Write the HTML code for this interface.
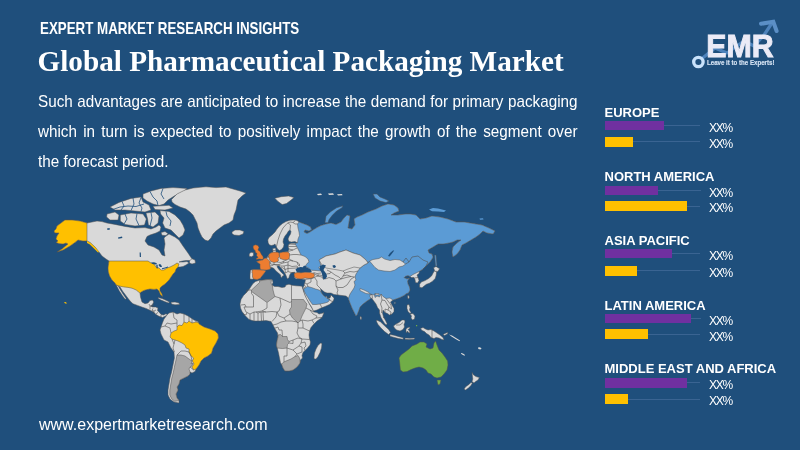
<!DOCTYPE html>
<html><head><meta charset="utf-8"><title>Global Pharmaceutical Packaging Market</title>
<style>
html,body{margin:0;padding:0}
body{width:800px;height:450px;overflow:hidden;background:#1f4f7c;position:relative;font-family:"Liberation Sans",sans-serif;color:#fff}
.abs{position:absolute;white-space:nowrap}
#hd{left:40px;top:19.2px;font-size:16.2px;font-weight:bold;line-height:18px;transform:scaleX(.8235);transform-origin:0 0}
#ttl{left:37.5px;top:42.5px;font-family:"Liberation Serif",serif;font-weight:bold;font-size:29.2px;line-height:36px}
#body{left:38.3px;top:85.7px;width:580.1px;transform:scaleX(.93);transform-origin:0 0;font-size:16.4px;line-height:30px;white-space:normal}
#body div{text-align:justify;text-align-last:justify;white-space:nowrap}
#body div.last{text-align:left;text-align-last:left}
#ft{left:39px;top:415px;font-size:16px;line-height:20px}
.lab{left:604.5px;font-size:13px;font-weight:bold;line-height:14px}
.bar{position:absolute;left:604.5px;height:9.5px}
.p{background:#7030a0}.y{background:#ffc000;height:10px}
.ln{position:absolute;height:1px;background:#3a6492}
.xx{font-size:12px;letter-spacing:-1.2px;left:709px;line-height:14px;font-weight:normal}
</style></head><body>
<div class="abs" id="hd">EXPERT MARKET RESEARCH INSIGHTS</div>
<div class="abs" id="ttl">Global Pharmaceutical Packaging Market</div>
<div class="abs" id="body"><div>Such advantages are anticipated to increase the demand for primary packaging</div><div>which in turn is expected to positively impact the growth of the segment over</div><div class="last">the forecast period.</div></div>
<div class="abs" id="ft">www.expertmarketresearch.com</div>
<!--BARS-->
<div class="abs lab" style="top:105.6px">EUROPE</div>
<div class="bar p" style="top:120.9px;width:59.3px"></div>
<div class="ln" style="top:125.2px;left:663.8px;width:36.7px"></div>
<div class="abs xx" style="top:120.9px">XX%</div>
<div class="bar y" style="top:136.8px;width:28.9px"></div>
<div class="ln" style="top:141.4px;left:633.4px;width:67.1px"></div>
<div class="abs xx" style="top:137.0px">XX%</div>
<div class="abs lab" style="top:170.1px">NORTH AMERICA</div>
<div class="bar p" style="top:185.6px;width:53.5px"></div>
<div class="ln" style="top:189.9px;left:658.0px;width:42.5px"></div>
<div class="abs xx" style="top:185.6px">XX%</div>
<div class="bar y" style="top:201.0px;width:82.2px"></div>
<div class="ln" style="top:205.6px;left:686.7px;width:13.8px"></div>
<div class="abs xx" style="top:201.2px">XX%</div>
<div class="abs lab" style="top:233.6px">ASIA PACIFIC</div>
<div class="bar p" style="top:248.8px;width:67.3px"></div>
<div class="ln" style="top:253.1px;left:671.8px;width:28.7px"></div>
<div class="abs xx" style="top:248.8px">XX%</div>
<div class="bar y" style="top:265.6px;width:32.4px"></div>
<div class="ln" style="top:270.2px;left:636.9px;width:63.6px"></div>
<div class="abs xx" style="top:265.8px">XX%</div>
<div class="abs lab" style="top:298.6px">LATIN AMERICA</div>
<div class="bar p" style="top:313.6px;width:86.0px"></div>
<div class="ln" style="top:317.9px;left:690.5px;width:10.0px"></div>
<div class="abs xx" style="top:313.6px">XX%</div>
<div class="bar y" style="top:329.4px;width:43.6px"></div>
<div class="ln" style="top:334.0px;left:648.1px;width:52.4px"></div>
<div class="abs xx" style="top:329.6px">XX%</div>
<div class="abs lab" style="top:362.3px">MIDDLE EAST AND AFRICA</div>
<div class="bar p" style="top:378.1px;width:82.2px"></div>
<div class="ln" style="top:382.4px;left:686.7px;width:13.8px"></div>
<div class="abs xx" style="top:378.1px">XX%</div>
<div class="bar y" style="top:394.1px;width:23.1px"></div>
<div class="ln" style="top:398.7px;left:627.6px;width:72.9px"></div>
<div class="abs xx" style="top:394.3px">XX%</div>
<!--/BARS-->
<!--MAP-->
<svg width="800" height="450" viewBox="0 0 800 450" style="position:absolute;left:0;top:0">
<polygon points="87,223 92,222 97,221 102,221.6 107,223 115,224.4 125,226.4 135,228 145,227.6 151,229 156,227 159,225 161,227 160,231 156,233 150,235 147,236.5 145,241 148,245 154,247 159,250 162,255 165,256 164,250 165,244 164,238 165.5,236.5 169,234 175,237 179,240 183,246 188,253 191,257.5 193,260 190,260.5 186,260.5 182.5,261 179,262 183,262 187,261.5 189,263 186,265 183,266.5 180,267 178,267 176,269 175,272 173,274 171,277 169,280 167,282 165,284 162,286 160,288 160,291 162,294 162.4,296.4 160.4,294.5 159,291 157,289 154,289.4 150,289 147,289.6 144,290.4 141.5,291.8 140,293 140.6,297.5 142,302 145,303.7 148,303 150,300.6 152.5,300 153.7,302 152.5,304.4 150.6,306 152.5,307 155.6,307 158,308 157.5,310.6 159.4,312.5 161,314.4 163.7,315 166,313.7 167.5,315 165,316.2 162.5,317.5 159,316.3 156,314.6 154,312.3 150,310.3 146,308.4 142.5,307.3 137.5,305.4 133,303.8 131,302 128.5,299 125.5,295 122.5,291 120,286.9 116.2,285 115,283 112,280 109.6,276 108.4,272 108,268 108.6,264 109,261 106,259 102,256 99,252 95,247 90,242.4 87,241 83,241 78,240 75,242.4 70,246 63,250 57,252 62,249 68,244 66,243 63,244 59,243.6 56,242.4 58,241 56,239 57,236 59,233 55,233 54,231 56,229 57,226 61,223 65,220 72,220 80,221" fill="#d9d9d9" stroke="#505050" stroke-width="0.5"/>
<polygon points="116.2,285 117.8,285.2 120.5,290 123.5,294.8 126.2,298.5 125.2,299.3 122.3,295.6 119.2,290.8" fill="#d9d9d9" stroke="#505050" stroke-width="0.5"/>
<polygon points="189.5,260.8 192,258.8 195,260 195.5,263 192,264 189.5,263" fill="#d9d9d9" stroke="#505050" stroke-width="0.5"/>
<polygon points="143,194 151,191 161,188.4 173,187.6 187,188.4 183,192 175,195.6 168,200 164,204 159,205.6 153,204 147,201 143,198" fill="#d9d9d9" stroke="#505050" stroke-width="0.5"/>
<polygon points="153,206.3 169,205.3 173,208 165,210 155,209.6" fill="#d9d9d9" stroke="#505050" stroke-width="0.5"/>
<polygon points="110,207 119,202.4 131,198.4 141,197 143,202 149,205 151,210 145,212 135,211 125,210 115,210" fill="#d9d9d9" stroke="#505050" stroke-width="0.5"/>
<polygon points="107,214 115,212 119,215 118,220 110,220 106.6,217" fill="#d9d9d9" stroke="#505050" stroke-width="0.5"/>
<polygon points="120.3,215 131,213 143,214 146.3,219 144.5,225 135,226 125,224.4 120.3,221" fill="#d9d9d9" stroke="#505050" stroke-width="0.5"/>
<polygon points="146,213 155,212 159,216 158,223 153,227 148.4,225 147.6,219" fill="#d9d9d9" stroke="#505050" stroke-width="0.5"/>
<polygon points="160,210.6 169,211.4 175,215 180,220 183,225 185,230 183,235 179,238 175,234 171,230 165,228 162.6,223 164,218 160.6,214" fill="#d9d9d9" stroke="#505050" stroke-width="0.5"/>
<polygon points="161,232.5 165,231.5 168,233.5 166,235.5 162,235.3" fill="#d9d9d9" stroke="#505050" stroke-width="0.5"/>
<polygon points="171.5,199.5 177,194 185,190 193,188 200,187.3 206,186.8 216,187.6 226,187 233,189 240,191 246,193 242,196 238,200 237,205 236,210 234,215 233,220 229,223 224,225 220,228 216,231 213,234 211,238 208,241 205,240 202,237 200,233 198,228 197,223 195,219 193,215 190,212 186,209 180,207 175,204.5 172,202" fill="#d9d9d9" stroke="#505050" stroke-width="0.5"/>
<polygon points="232,232 235,230 240,230 244,231.5 243,234 239,235.5 234,235 232,233.5" fill="#d9d9d9" stroke="#505050" stroke-width="0.5"/>
<polygon points="109,261 148,261 151,263 154,264 156,267 159,268 161,270 164,270 167,268 170,267 174,265 177,263 179,264 178,267 176,269 175,272 173,274 171,277 169,280 167,282 165,284 162,286 160,288 160,291 162,294 162.4,296.4 160.4,294.5 159,291 157,289 154,289.4 150,289 147,289.6 144,290.4 141.5,291.8 140,293 138,291.5 136.2,290 132,288.2 128,287.4 123.7,286.9 120,286.2 116.2,285 115,283 112,280 109.6,276 108.4,272 108,268 108.6,264" fill="#ffc000" stroke="#505050" stroke-width="0.5"/>
<polygon points="87,223 80,221 72,220 65,220 61,223 57,226 56,229 54,231 55,233 59,233 57,236 56,239 58,241 56,242.4 59,243.6 63,244 66,243 68,244 62,249 57,252 63,250 70,246 75,242.4 78,240 83,241 87,241" fill="#ffc000" stroke="#505050" stroke-width="0.5"/>
<polygon points="167,315 169,313 173,312 177,314 180,313 184,314 188,316 191,318 194,320 198,321.6 199,324 204,327 210,329 215,331 218,334 218.4,338 216,343 213,348 211.6,353 208,356 204,358 201,361 199,365 196,369 195,371.5 192,373 190,372 190,374 188,376 184,378 180,380 179,384 177,387 178,390 176,394 177,398 179,400.5 179,403 174,402 170,399 168,395 168,390 169,384 170,378 171.6,372 173,365 174.4,358 174,352 171,348 168,342 164,340 161,334 160,330 161,327 162.4,323 164,319" fill="#d9d9d9" stroke="#505050" stroke-width="0.5"/>
<polygon points="184,322 187,323 189,321 192,323 196,322 199,323 199,324 204,327 210,329 215,331 218,334 218.4,338 216,343 213,348 211.6,353 208,356 204,358 201,361 199,365 196,369 193.6,370 192,367 194,364 192.4,361 193.6,358 191,356 189,352 189,349 186,348 185,345 182,343 178,341 175,340 172,339 170,337 171,333 174,331 177,330 177,327 179,325 182,325.6" fill="#ffc000" stroke="#505050" stroke-width="0.5"/>
<polygon points="177,355 181,355 185,356 189,359 192,361 191,364 193,363 192,366 190,367 189,369 190,372 190,374 188,376 184,378 180,380 179,384 177,387 178,390 176,394 177,398 179,400.5 177,401 174.5,401.2 171.5,398.5 169.8,395 169.8,390 170.8,384 171.8,378 173.4,372 174.8,365 176,360" fill="#a6a6a6" stroke="#505050" stroke-width="0.5"/>
<polygon points="253,283.5 255.5,281.5 258.5,280.5 263,280 268,279.5 271.5,279.5 272.5,280 273,282.5 272,285 274.5,286.5 278,286.5 282,287.5 285,287 286,285 289,284.2 292,285.2 296,285.8 300,286 302,286.2 303.5,291 305.5,296 308,301 310,305 312.5,309 314,312 317,312.5 319,314 323,313 324,312.5 323.5,314 322,317.5 320,319 317,321 313.5,324.5 311,327.5 309.5,331 309,335 309.5,339 310.5,342 310,345 307.5,348 305,350.5 303,352.5 302,355.5 302.5,358 300.5,360 300,363 297,367 293,370 289,371 285,371 283,368 281.5,364 280.5,363 279.5,358 278.5,353 277.5,349 276.5,345 277,341 278,337 277.5,333 275,329 273,325 271,321.5 266,320.6 260,321 254,321 249,319.5 245,315.5 242,311.5 240.5,308 240,304 241,299.5 243.5,295.5 246.5,292.5 249,289.5 251,286.5" fill="#d9d9d9" stroke="#505050" stroke-width="0.5"/>
<polygon points="314,358 314.5,353 316,349 318,345.5 320.5,343 322,343.5 321.5,348 320,352.5 318,356.5 316,359 314.5,359" fill="#d9d9d9" stroke="#505050" stroke-width="0.5"/>
<polygon points="286,361 291,359 295,356.5 298,355.5 299.5,358 300,360 300,363 297,367 293,370 289,371 285,371 283,368 281.5,364 284,362" fill="#a6a6a6" stroke="#505050" stroke-width="0.5"/>
<polygon points="278,335 280.5,334.5 282.5,336.5 287,336.5 287.5,339.5 289,341.5 289,343 287.5,344.5 287,348 282.5,348.5 277,348 276.5,345 277,341 278,337" fill="#a6a6a6" stroke="#505050" stroke-width="0.5"/>
<polygon points="291.5,299.5 303.5,299.5 306,303 307,304 306,308 304,312 302,316 300,321 298,323 292.5,318 290,314 289.5,310 291.5,307" fill="#a6a6a6" stroke="#505050" stroke-width="0.5"/>
<polygon points="259.5,282.5 259.5,281 264,280 268,279.5 271.5,279.8 271,283 272.5,286 273,290 274,294 275,296.5 267,302.5 251.5,291.5 251.5,290" fill="#a6a6a6" stroke="#505050" stroke-width="0.5"/>
<polygon points="250,279 250,275 250.5,270 254,269.5 260,269.8 260.5,269.5 260,267 260,264 258.5,263 256.5,261.5 260,260.5 262.5,260 264.5,258.5 266.5,258 268,256 269,254.5 270.5,253 272,252.5 273,252 272.7,248.5 275.5,248 276,251 276,252.6 279,253 284,252 288,251.5 289,249 288,246.5 289,244 291,243.3 295,243.3 297.5,243 295,241.5 291.5,242 289,241.5 288,239 289,236.5 290.5,234 291,231.5 290,230 288.5,231 287,233.5 285,236 283.5,239 283,242 284,244.5 283.5,247 281.5,249.5 279.5,250.5 277.5,249 276,246 275,244 273.5,245 271.5,245.5 269.5,245 268.2,243 267.8,240 269,237.5 272,235 275,232 277,229 279.5,226 282.5,223.5 286,221.5 290,220.2 294,220 297,220.5 299,222 303,223.5 307,225 310.5,227 311.5,229.5 309,231 305,230 304,232 307,233.5 310,232 313,230 317,227.5 321,225.5 326,224 331,223 336,224.5 341,222 344,218 347,215 350,216 349,222 348,228 352,229 355,225 354,219 357,217 362,215 368,212 376,209 382,206 388,204 394,205 398,208 399,211 394,213 391,215 398,215 406,214 410,214 416,215 420,219 426,218 432,216 440,217 448,219 456,222 464,222 470,223 476,224 482,225 489,228 495,231 493,234 487,233 483,231 480,234 476,237 471,240 466,243 462,245 460,250 457,254 453,257 452,252 453,247 457,243 461,240 457,240 453,242 449,243 443,244 438,244 433,247 428,250 429,253 432,254 433,257 432,259 430,262 426,266 423,269 420,271 419.5,271 419,273.5 417,275 418,277.5 419,280.5 417.5,283 415.5,282.5 415,279.5 414,277.5 411.5,277.5 410,276.5 408,275.5 405,276.5 404,277.5 407,279 409.5,278 407.5,281 408,284 409.5,287 410,290 408.5,293 406.5,293.5 404,295.5 400,297.5 396,299 393,300 390.5,302 392,305 394,308.5 394,311.5 392,314 389.5,315 387.5,313.5 385,312.5 383,310 382.5,313 383.5,317 385.5,320.5 387,323.5 386.5,325 385,324 383,321 381,317.5 379.5,313 379.5,310 377.5,307.5 376,304 373,300 372,298.5 371,298 370,299 367,301 363,304 360,307 359,310 357,315 356,316 355,314 352,308 350,303 348.5,299 348.5,298 346,296 342,295.5 338,295 334,294.5 331,293 327,293 324.5,292 322,290 320.5,288.5 321,291 321.5,293 323.5,295.5 325.5,297 326.5,296 327.5,298.5 330,298 331,295 334,298 334,299 333,301.5 329.5,304.5 325,306.5 321,308 317,310 313.5,311 311.5,307 309,303 306.5,298.5 304.5,294 303.5,290 303,288 304,285.5 305,282 305.5,279.5 304,279.4 300,278.7 296,279 294.4,277.5 294.4,274.4 295,272.2 292.5,272.5 290.5,273.5 289.5,275.5 289,277.5 287.5,279 287,278 286,275.5 285,273.5 283.5,271 281,268 278.5,265.5 277,266.5 278.5,269 280.5,271.5 283.5,274.5 284,275.5 282.5,276 282,277.5 281,277.5 280.5,275 278.5,273 276,271 274,268.5 272,267.5 270.5,267.5 270.5,268.5 269,269.5 266.5,270 265,270.5 265.5,271.5 263.5,274 262,276 260,278.5 257,279.5 253.5,279 252,279.3" fill="#d9d9d9" stroke="#505050" stroke-width="0.5"/>
<polygon points="299,222 303,223.5 307,225 310.5,227 311.5,229.5 309,231 305,230 304,232 307,233.5 310,232 313,230 317,227.5 321,225.5 326,224 331,223 336,224.5 341,222 344,218 347,215 350,216 349,222 348,228 352,229 355,225 354,219 357,217 362,215 368,212 376,209 382,206 388,204 394,205 398,208 399,211 394,213 391,215 398,215 406,214 410,214 416,215 420,219 426,218 432,216 440,217 448,219 456,222 464,222 470,223 476,224 482,225 489,228 495,231 493,234 487,233 483,231 480,234 476,237 471,240 466,243 462,245 460,250 457,254 453,257 452,252 453,247 457,243 461,240 457,240 453,242 449,243 443,244 438,244 433,247 428,250 429,253 432,254 433,257 432,259 430,262 426,266 423,269 420,271 416,273 413,274.5 410,276.5 408,275.5 405,276.5 404,277.5 407,279 409.5,278 407.5,281 408,284 409.5,287 410,290 408.5,293 406.5,293.5 404,295.5 400,297.5 396,299 393,300 390,298 386,298.5 383,296.5 381,294 379.5,297 377,296 375,297.5 374.5,295 372,294.5 370,295 370,297 371,298 370,299 367,301 363,304 360,307 359,310 357,315 356,316 355,314 352,308 350,303 348.5,299 348.5,298 350,294 352,291 354,288 355,285 354,281.5 356,280 355,277 356,274 358,271 360,268 364,265 368,263 366,260 360,255 353,253 346,250 340,252 335,254 326,256 319,260 321,265.6 318.7,267.5 321,271 316,270.5 311.5,270.3 309,268.3 306.5,267.2 305.8,265.4 307,263.5 309,262 308,259 305,256.5 301,255 299.5,252 297.5,248 295.5,244.5 295.3,243.2 297.5,243 298,239 299.5,235.5 299,232 298,228 297.5,224" fill="#5b9bd5" stroke="#505050" stroke-width="0.5"/>
<polygon points="369.5,261 373,259.5 379,258.5 381.5,257 384.5,259 390,260.5 395,259.5 400,260 403,262 405.5,264 403,266 399,267 395,270 390,271.5 384,271 378.5,270 375,267.5 372.5,264.5" fill="#d9d9d9" stroke="#505050" stroke-width="0.5"/>
<polygon points="319,260 326,256 335,254 340,252 346,250 353,253 360,255 366,260 368,263 364,265 360,268 354,267 348,269 343,271 338,270 332,269 326,268 322,265" fill="#d9d9d9" stroke="#505050" stroke-width="0.5"/>
<polygon points="360,288.5 364,290 369,292.5 370,294 366,293.5 362,291.5 360,290.5" fill="#d9d9d9" stroke="#505050" stroke-width="0.5"/>
<polygon points="375,293.5 379,293.7 379,295 375,295" fill="#d9d9d9" stroke="#505050" stroke-width="0.5"/>
<polygon points="303.5,289 307.5,286.5 311.5,287.5 315.5,289 319,290 320.5,291 321.5,293 323.5,295.5 325.5,297 327.5,298.5 330,299.5 328,302 325,303 320,304 316,304.5 312.5,304.5 310,301 307.5,297 305,293" fill="#5b9bd5" stroke="#505050" stroke-width="0.5"/>
<polygon points="295.5,269.5 297.5,267.8 300.5,267 303,267.3 303.5,266 305.5,265.6 306.3,267.2 308.5,268.2 310.5,269.6 311.8,271.8 310,272.6 305,272.4 301,273 297,272.6" fill="#1f4f7c"/>
<polygon points="320,266 323,264.5 326,265.5 324.5,268 323.5,270 325,272 326.5,274 327,276.5 325.5,279 323.5,279.5 322.5,277 322,274 321,271.5 319.5,269" fill="#1f4f7c"/>
<polygon points="253.5,245.5 255.5,244.8 258,245.5 259,247.5 258,250 260,251.5 261.5,254.5 263,256.5 263.5,258.5 262,259.5 259,259 256.5,259.5 256,258.5 258,257.5 256.5,255.5 257,253.5 255.5,252.5 255,250.5 253.5,249 253,247" fill="#ed7d31" stroke="#505050" stroke-width="0.5"/>
<polygon points="249.2,254 251,252.3 253.5,252.8 253.5,255.5 251.5,256.8 249.2,256.2" fill="#d9d9d9" stroke="#505050" stroke-width="0.5"/>
<polygon points="256.5,261.5 260,260.5 262.5,260 264.5,258.5 266.5,258 268.5,260 270,261.5 269.5,264 270,266 270.5,268.5 269,269.5 266.5,270 264,270 260.5,269.5 260,267 260,264 258.5,263" fill="#ed7d31" stroke="#505050" stroke-width="0.5"/>
<polygon points="269,254.5 270.5,253 274,252 278,252.2 279,253.5 279.5,256.5 278,258 278.5,260.5 277,262 274,262.5 271,261.5 269.5,259.5 268.5,257" fill="#ed7d31" stroke="#505050" stroke-width="0.5"/>
<polygon points="279.5,253 283,252 288,252 289.5,253.5 289.5,256.5 289,259 286.5,260 283,259.5 280,258.5 279.5,256.5" fill="#ed7d31" stroke="#505050" stroke-width="0.5"/>
<polygon points="252.3,270 254,269.5 260,269.8 265,270.5 265.5,271.5 263.5,274 262,276 260,278.5 257,279.5 253.5,279 252.5,277 252.5,273.5 252,272.5" fill="#ed7d31" stroke="#505050" stroke-width="0.5"/>
<polygon points="294,273.5 297,272.5 301,272.8 305,272.2 310,272.5 314,273.5 314.5,276 313,278 309,278.5 305,278 301,279 297,278.5 294.5,277" fill="#ed7d31" stroke="#505050" stroke-width="0.5"/>
<polygon points="399,358 401,355 405,352 409,349 412,346 417,344 420,342 424,342 427,344 426,347 430,349 433,348 434,343 435.6,341 437,345 439,350 442,353 445,357 447.6,361 448,365 447,370 444,374 441,377 437,378 434,377 431,374 428,373 426,370 423,368 419,367 415,368 411,369.6 407,371.6 403,372 400.4,370 400,366 399.6,362" fill="#70ad47" stroke="#505050" stroke-width="0.5"/>
<polygon points="437,380 441,380 440,384 438,385" fill="#70ad47" stroke="#505050" stroke-width="0.5"/>
<polygon points="472,372.4 473.6,375 476,376.6 479.4,377.6 478,380 475.6,381.6 474,383 472,381.6 472.8,379 472.4,376" fill="#d9d9d9" stroke="#505050" stroke-width="0.5"/>
<polygon points="472.4,383 471,385.6 468.4,388 465.6,390 464,389 466,386.4 469,384.4 471,382.4" fill="#d9d9d9" stroke="#505050" stroke-width="0.5"/>
<polygon points="420.5,328.5 423,327.5 425.5,329 428,330 431,329.5 434,331 437,333 440,335 443,337.5 444,340 442,339.5 439,338 436,337.5 434,338.5 431,337.5 429,335 426.5,333.5 424.5,331.5 422,330.5" fill="#d9d9d9" stroke="#505050" stroke-width="0.5"/>
<polygon points="324.9,222.7 326,216.3 330.2,212 336.6,207.8 343,205.7 342,207.8 336.6,211 332.3,215.3 329.1,219.5 328,222.7" fill="#5b9bd5" stroke="#505050" stroke-width="0.5"/>
<polygon points="274.8,198.2 281.2,196.7 288.6,196 294,197.6 290.8,200.3 286.5,203.5 282.2,204.6 278,201.4" fill="#d9d9d9" stroke="#505050" stroke-width="0.5"/>
<polygon points="373,194 377,194 380,197 385,199 389,201 386,202.6 380,201 375,198" fill="#5b9bd5" stroke="#505050" stroke-width="0.5"/>
<polygon points="158,297.5 162,298.5 166,300.3 169.5,302 168.5,303 164.5,301.5 160.5,299.8 158.3,298.6" fill="#d9d9d9" stroke="#505050" stroke-width="0.5"/>
<polygon points="171,302.3 175,302 179,303 179.5,304.5 175,304.8 171.5,304" fill="#d9d9d9" stroke="#505050" stroke-width="0.5"/>
<polygon points="419.6,284.3 421.3,282 425,280.6 428.6,278.5 431.5,276 433,273.2 434.2,271 436.6,271.6 436.2,275.2 435.2,278.4 432.6,281.2 429.4,283.2 426.4,284.3 424.4,285.8 422,287.8 419.6,287.2" fill="#d9d9d9" stroke="#505050" stroke-width="0.5"/>
<polygon points="433.6,267.8 436,266.4 439.6,268.8 437.8,271.4 434.8,271.2" fill="#d9d9d9" stroke="#505050" stroke-width="0.5"/>
<polygon points="434.5,255 436,255 436.5,260 437,266 435.5,266 435,260" fill="#5b9bd5" stroke="#505050" stroke-width="0.5"/>
<polygon points="407.5,295.8 409,295.5 409.3,298 408,299" fill="#d9d9d9" stroke="#505050" stroke-width="0.5"/>
<polygon points="394,302.3 395.5,302 395.6,303.6 394.2,304" fill="#5b9bd5" stroke="#505050" stroke-width="0.5"/>
<polygon points="407,305 409,304.5 410,307.5 409.5,310 411,312.5 410,313.5 408,311.5 407,308.5" fill="#d9d9d9" stroke="#505050" stroke-width="0.5"/>
<polygon points="410,314 413,313.5 415,316 414.5,319 412.5,320 411,318 411.5,316" fill="#d9d9d9" stroke="#505050" stroke-width="0.5"/>
<polygon points="376.6,320 380.4,321.8 384.6,325.8 388.6,329.4 390.6,332.4 388.6,334.6 384.6,331.6 381,328 378,324.4 376.6,321.8" fill="#d9d9d9" stroke="#505050" stroke-width="0.5"/>
<polygon points="393.5,326 396,324 399,322.5 402,320 404.5,320 405,322 404,324.5 404.5,327 403,329.5 400,331 396.5,330 394.5,328" fill="#d9d9d9" stroke="#505050" stroke-width="0.5"/>
<polygon points="390,334.6 394,335.2 399,336.7 403.2,337.7 403.2,339.3 398.5,338.6 393.5,337.2 390,336.3" fill="#d9d9d9" stroke="#505050" stroke-width="0.5"/>
<polygon points="405,338 410,338.3 415,338 414,339.3 409,339.6 405,339.3" fill="#d9d9d9" stroke="#505050" stroke-width="0.5"/>
<polygon points="406,329 408,327.5 410,327 409.5,328.5 408,329.5 409.5,331 410,333 408.5,332.5 407.5,331 406.5,333 406,331" fill="#d9d9d9" stroke="#505050" stroke-width="0.5"/>
<polygon points="443,334.5 446,333 448,332.5 447.5,334 444.5,335.5" fill="#d9d9d9" stroke="#505050" stroke-width="0.5"/>
<polygon points="360,316.5 361.5,317 361.5,319.3 360.3,319.5" fill="#d9d9d9" stroke="#505050" stroke-width="0.5"/>
<polygon points="416,325 417.2,325 417.2,326.2 416,326.2" fill="#70ad47"/>
<polyline points="251.5,290 246.8,290 246.5,292.5" fill="none" stroke="#505050" stroke-width="0.6"/>
<polyline points="251.5,291.5 251.5,293.5 253.5,296 253.5,307 244,307" fill="none" stroke="#505050" stroke-width="0.6"/>
<polyline points="241,305 245,304.5 246,307" fill="none" stroke="#505050" stroke-width="0.6"/>
<polyline points="267,302.5 267,308 262,311 256,312 254,312 250,314 246,312 244,307" fill="none" stroke="#505050" stroke-width="0.6"/>
<polyline points="262,311 266,312 272,311.5 277,312" fill="none" stroke="#505050" stroke-width="0.6"/>
<polyline points="280,298 281,305 279,311 277,312" fill="none" stroke="#505050" stroke-width="0.6"/>
<polyline points="291.5,285.2 291.5,299.5" fill="none" stroke="#505050" stroke-width="0.6"/>
<polyline points="275,296.5 280,298 290,302.5 291.5,301.5" fill="none" stroke="#505050" stroke-width="0.6"/>
<polyline points="277,312 279,316 284,318 290,314" fill="none" stroke="#505050" stroke-width="0.6"/>
<polyline points="277,312 276,317 272,321.5" fill="none" stroke="#505050" stroke-width="0.6"/>
<polyline points="243,314 246,315 247,312.5" fill="none" stroke="#505050" stroke-width="0.6"/>
<polyline points="250,314 250,320" fill="none" stroke="#505050" stroke-width="0.6"/>
<polyline points="254,312 254,321" fill="none" stroke="#505050" stroke-width="0.6"/>
<polyline points="258,313 258,321" fill="none" stroke="#505050" stroke-width="0.6"/>
<polyline points="261,312 261.5,321" fill="none" stroke="#505050" stroke-width="0.6"/>
<polyline points="263,312 263.5,320.8" fill="none" stroke="#505050" stroke-width="0.6"/>
<polyline points="256,312 258,313 261,312 263,312 266,312" fill="none" stroke="#505050" stroke-width="0.6"/>
<polyline points="284,318 286,321 292,321 297,322 298,323" fill="none" stroke="#505050" stroke-width="0.6"/>
<polyline points="273,325 277,324 281,322 286,321" fill="none" stroke="#505050" stroke-width="0.6"/>
<polyline points="274,328.5 278,327 279,330 282,330 282.5,336.5" fill="none" stroke="#505050" stroke-width="0.6"/>
<polyline points="298,323 298,328 303,328 309.5,331" fill="none" stroke="#505050" stroke-width="0.6"/>
<polyline points="298,328 297,333 299,337 302,339 309.5,339.5" fill="none" stroke="#505050" stroke-width="0.6"/>
<polyline points="303,328 303,324 302,320 308,321 312,320 314,323.5" fill="none" stroke="#505050" stroke-width="0.6"/>
<polyline points="302,320 300,321" fill="none" stroke="#505050" stroke-width="0.6"/>
<polyline points="306,308 310,310 314,312" fill="none" stroke="#505050" stroke-width="0.6"/>
<polyline points="312,320 316,318 322,317.5" fill="none" stroke="#505050" stroke-width="0.6"/>
<polyline points="310,310 313,314 317,316 316,318" fill="none" stroke="#505050" stroke-width="0.6"/>
<polyline points="289,341.5 293,340 298,338 302,339 301,343 299,346 293,350 287,348" fill="none" stroke="#505050" stroke-width="0.6"/>
<polyline points="299,346 302,347 302,352 297,354 293,350" fill="none" stroke="#505050" stroke-width="0.6"/>
<polyline points="297,354 295,356.5" fill="none" stroke="#505050" stroke-width="0.6"/>
<polyline points="301,343 305,342 306,346 304,348 305,350.5" fill="none" stroke="#505050" stroke-width="0.6"/>
<polyline points="287,348 287,356 284,356 284,362" fill="none" stroke="#505050" stroke-width="0.6"/>
<polyline points="289,343 293,343.5 293,340" fill="none" stroke="#505050" stroke-width="0.6"/>
<polyline points="173,312 174,318 177,320 177,323 177,327" fill="none" stroke="#505050" stroke-width="0.6"/>
<polyline points="161,327 165,326 170,328 171,333" fill="none" stroke="#505050" stroke-width="0.6"/>
<polyline points="165,326 167,323 171,324 177,323" fill="none" stroke="#505050" stroke-width="0.6"/>
<polyline points="184,314 184,322" fill="none" stroke="#505050" stroke-width="0.6"/>
<polyline points="189,316.5 189,321" fill="none" stroke="#505050" stroke-width="0.6"/>
<polyline points="192,318.5 192,323" fill="none" stroke="#505050" stroke-width="0.6"/>
<polyline points="196,320.7 196,322" fill="none" stroke="#505050" stroke-width="0.6"/>
<polyline points="172,339 174,344 173,348 174.4,352" fill="none" stroke="#505050" stroke-width="0.6"/>
<polyline points="175,340 174,344" fill="none" stroke="#505050" stroke-width="0.6"/>
<polyline points="185,351 181,351 177,355" fill="none" stroke="#505050" stroke-width="0.6"/>
<polyline points="185,351 189,352 191,356 192,361" fill="none" stroke="#505050" stroke-width="0.6"/>
<polyline points="190,367 192,368.5 193.6,370" fill="none" stroke="#505050" stroke-width="0.6"/>
<polyline points="149,304 150,306 150,309.5" fill="none" stroke="#505050" stroke-width="0.6"/>
<polyline points="153.3,304 152.5,306.5" fill="none" stroke="#505050" stroke-width="0.6"/>
<polyline points="150,306 153,306" fill="none" stroke="#505050" stroke-width="0.6"/>
<polyline points="153,308.4 152,310.5 154,311 153.5,313.5" fill="none" stroke="#505050" stroke-width="0.6"/>
<polyline points="156,310 154,311" fill="none" stroke="#505050" stroke-width="0.6"/>
<polyline points="158,312.4 156,314" fill="none" stroke="#505050" stroke-width="0.6"/>
<polyline points="161,315 161,317.7" fill="none" stroke="#505050" stroke-width="0.6"/>
<polyline points="276.5,246.5 278,240 280,234 283,228 287,223.5 290,222 293,222.5 295,221" fill="none" stroke="#505050" stroke-width="0.6"/>
<polyline points="290,230 290.5,225 288,222.8" fill="none" stroke="#505050" stroke-width="0.6"/>
<polyline points="293,222.5 295,224 297.5,224" fill="none" stroke="#505050" stroke-width="0.6"/>
<polyline points="289,244 295.5,244.5" fill="none" stroke="#505050" stroke-width="0.6"/>
<polyline points="288,246.5 296.5,246.5" fill="none" stroke="#505050" stroke-width="0.6"/>
<polyline points="289,249 293,250 297,248" fill="none" stroke="#505050" stroke-width="0.6"/>
<polyline points="288,251.5 293,250" fill="none" stroke="#505050" stroke-width="0.6"/>
<polyline points="289.5,255 293,254.5 297,254.5 301,255" fill="none" stroke="#505050" stroke-width="0.6"/>
<polyline points="289,259 293,261 297,262 299.5,264 299.5,266" fill="none" stroke="#505050" stroke-width="0.6"/>
<polyline points="297,262 298,265 299.5,266" fill="none" stroke="#505050" stroke-width="0.6"/>
<polyline points="277,262 281,262.5 284,261 286.5,260" fill="none" stroke="#505050" stroke-width="0.6"/>
<polyline points="274,262.5 274,264.5 279,264.5 283,263 284,261" fill="none" stroke="#505050" stroke-width="0.6"/>
<polyline points="283,263 288,262 290,260.5 293,261" fill="none" stroke="#505050" stroke-width="0.6"/>
<polyline points="270,261.5 270.5,264 274,264.5" fill="none" stroke="#505050" stroke-width="0.6"/>
<polyline points="270,266 272,265.7 274,264.5 278,265.5" fill="none" stroke="#505050" stroke-width="0.6"/>
<polyline points="279,264.5 279.5,266 284,266 288,265 288,262" fill="none" stroke="#505050" stroke-width="0.6"/>
<polyline points="288,265 292,266.5 297,266 298,267.5" fill="none" stroke="#505050" stroke-width="0.6"/>
<polyline points="288,265 288,268.5 296,268 298,267.5" fill="none" stroke="#505050" stroke-width="0.6"/>
<polyline points="288,268.5 288,271.5 291,272.5 294,272.5" fill="none" stroke="#505050" stroke-width="0.6"/>
<polyline points="284,266 285,269.5 285.5,273" fill="none" stroke="#505050" stroke-width="0.6"/>
<polyline points="281,267 283,268 285,269.5 288,268.5" fill="none" stroke="#505050" stroke-width="0.6"/>
<polyline points="285.5,273 288,271.5" fill="none" stroke="#505050" stroke-width="0.6"/>
<polyline points="266.5,258 268.5,256.5 269,257.5" fill="none" stroke="#505050" stroke-width="0.6"/>
<polyline points="272.7,250.5 275.8,250.5" fill="none" stroke="#505050" stroke-width="0.6"/>
<polyline points="306,279.3 311,278.6 311,282 307,284 305,283" fill="none" stroke="#505050" stroke-width="0.6"/>
<polyline points="311,278.6 314.5,277.5 317,281 317,285 320.5,288.5" fill="none" stroke="#505050" stroke-width="0.6"/>
<polyline points="307,284 308,286.6" fill="none" stroke="#505050" stroke-width="0.6"/>
<polyline points="304.3,285 305.5,286.5 304,288.5" fill="none" stroke="#505050" stroke-width="0.6"/>
<polyline points="314.5,277.5 317,276 322,277 323.5,279.5" fill="none" stroke="#505050" stroke-width="0.6"/>
<polyline points="313.5,272.5 317,273.5 321,273" fill="none" stroke="#505050" stroke-width="0.6"/>
<polyline points="314,273.5 316,275 319,275 317,276" fill="none" stroke="#505050" stroke-width="0.6"/>
<polyline points="319,275 322.3,275.5" fill="none" stroke="#505050" stroke-width="0.6"/>
<polyline points="325.5,279 329,277.5 334,279 336,281 336,286 338,290 337,293 338,295" fill="none" stroke="#505050" stroke-width="0.6"/>
<polyline points="327,270 331,272 335,275 339,277 341,279 336,281" fill="none" stroke="#505050" stroke-width="0.6"/>
<polyline points="326.5,274 330,273.5 331,272" fill="none" stroke="#505050" stroke-width="0.6"/>
<polyline points="341,279 346,277.5 351,276.5 354.5,277" fill="none" stroke="#505050" stroke-width="0.6"/>
<polyline points="338,287.5 343,287.5 347,285 349,282 351,279 354.5,277" fill="none" stroke="#505050" stroke-width="0.6"/>
<polyline points="336,286 338,287.5" fill="none" stroke="#505050" stroke-width="0.6"/>
<polyline points="341,279 343,276 347,275 351,276.5" fill="none" stroke="#505050" stroke-width="0.6"/>
<polyline points="343,276 345,273 350,271.5 354,272 358,271" fill="none" stroke="#505050" stroke-width="0.6"/>
<polyline points="343,271 345,273" fill="none" stroke="#505050" stroke-width="0.6"/>
<polyline points="327.5,298.5 329,296.5 331,296" fill="none" stroke="#505050" stroke-width="0.6"/>
<polyline points="328.5,299 331,301 333,301.5" fill="none" stroke="#505050" stroke-width="0.6"/>
<polyline points="320,304 322,307.8" fill="none" stroke="#505050" stroke-width="0.6"/>
<polyline points="381,294 382,300 380.5,304 382,308 381.5,313" fill="none" stroke="#505050" stroke-width="0.6"/>
<polyline points="382,300 385,300.5 387,304 389,307 388,310 385,309 385,312.5" fill="none" stroke="#505050" stroke-width="0.6"/>
<polyline points="386,298.5 388,301 391,305 391.5,309 389,307" fill="none" stroke="#505050" stroke-width="0.6"/>
<polyline points="388,310 391,312 390.5,315" fill="none" stroke="#505050" stroke-width="0.6"/>
<polyline points="383,317 385,318.5" fill="none" stroke="#505050" stroke-width="0.6"/>
<polyline points="396,325 400,325 403,322.5" fill="none" stroke="#505050" stroke-width="0.6"/>
<polyline points="432,329.7 432,337.8" fill="none" stroke="#505050" stroke-width="0.6"/>
<polyline points="414.5,278 418,277.5" fill="none" stroke="#505050" stroke-width="0.6"/>
<polyline points="370,294 372,294.5 372.5,298.5" fill="none" stroke="#505050" stroke-width="0.6"/>
<polyline points="375,293.5 375,295" fill="none" stroke="#505050" stroke-width="0.6"/>
<polyline points="369.5,261 368,263" fill="none" stroke="#505050" stroke-width="0.6"/>
<polyline points="405.5,264 409,262 412,257 418,256 423,260 428,262 426,266 423,269" fill="none" stroke="#505050" stroke-width="0.6"/>
<polyline points="403,262 406,258 409,262" fill="none" stroke="#505050" stroke-width="0.6"/>
<polygon points="64,302.2 65.5,302 66.8,303 66.3,303.8 64.8,303.3" fill="#ffc000"/>
<polygon points="87,241 90,242.4 95,247 99,252 98,252.6 94,248.6 89.5,244.2 87,243" fill="#ffc000"/>
<polygon points="429,209.5 433,208 438,208.5 442,209.5 446,210.5 444,212 438,211.5 432,211.3" fill="#5b9bd5"/>
<polygon points="479.5,218.5 483,218.3 483.5,219.6 480,219.8" fill="#5b9bd5"/>
<polygon points="317,194 321,193.5 322,195 318,195.3" fill="#d9d9d9"/>
<polygon points="328,193.6 333,193.2 334,194.8 329,195" fill="#d9d9d9"/>
<polygon points="337,194.3 342,194 342.5,195.2 338,195.5" fill="#d9d9d9"/>
<polygon points="388,256 390,253 393,250.5 394.2,250.6 392,253.6 389.6,256.6" fill="#1f4f7c"/>
<polygon points="332.5,265.5 334.5,265 336,266.3 335,268 333,267.6" fill="#1f4f7c"/>
<polyline points="122,201.5 124,206 121,210" fill="none" stroke="#1f4f7c" stroke-width="0.8"/>
<polyline points="133,198 134,204 131,210.5" fill="none" stroke="#1f4f7c" stroke-width="0.8"/>
<polyline points="141,197.5 139,203 142,208 141,211.5" fill="none" stroke="#1f4f7c" stroke-width="0.8"/>
<polyline points="112,209.8 120,207 128,206 136,206.5 144,204" fill="none" stroke="#1f4f7c" stroke-width="0.8"/>
<polyline points="150,191.5 153,197 157,201 158,205.5" fill="none" stroke="#1f4f7c" stroke-width="0.8"/>
<polyline points="163,188.5 161,194 164,199" fill="none" stroke="#1f4f7c" stroke-width="0.8"/>
<polyline points="125,214 127,219 124,224" fill="none" stroke="#1f4f7c" stroke-width="0.8"/>
<polyline points="137,213.6 136,219 139,225.5" fill="none" stroke="#1f4f7c" stroke-width="0.8"/>
<polyline points="151,212.5 152,218 150,226" fill="none" stroke="#1f4f7c" stroke-width="0.8"/>
<polyline points="166,211.5 167,216 171,221 170,226" fill="none" stroke="#1f4f7c" stroke-width="0.8"/>
<polygon points="151,262.6 154,262.3 157,263.3 156,264.6 152.5,264" fill="#1f4f7c"/>
<polygon points="156.3,264.6 157.6,264.8 157.8,268.5 156.5,268.3" fill="#1f4f7c"/>
<polygon points="158.8,264 161,264.6 162,267 160,267 158.8,265.6" fill="#1f4f7c"/>
<polygon points="162,268.2 165,267.4 168,266.6 168,267.6 165,268.6 162,269.2" fill="#1f4f7c"/>
<polygon points="107,228.4 109.5,228 110,229.6 107.6,230" fill="#1f4f7c"/>
<polygon points="118,237.6 122,236.6 122.4,238 118.4,238.8" fill="#1f4f7c"/>
<polygon points="139.6,252.6 140.8,252.6 141,257 139.8,257" fill="#1f4f7c"/>
<polygon points="449,334.5 452,335.5 456,338 460,340.5 459.5,341.3 455.5,339 451.5,336.5" fill="#d9d9d9"/>
<polygon points="461,353 463,353.6 465,355 464.5,355.8 462.5,354.8 461,353.8" fill="#d9d9d9"/>
<polygon points="478,347.6 480,347.2 481.6,348.4 480.4,349.6 478.4,349" fill="#d9d9d9"/>
</svg>
<!--/MAP-->
<!--LOGO-->
<svg width="120" height="75" viewBox="680 0 120 75" style="position:absolute;left:680px;top:0">
<polyline points="702,58.5 715,48 727,53 744,41 754,46 764,35 772,23" fill="none" stroke="#4d82bb" stroke-width="3.2" stroke-linejoin="round"/>
<polyline points="761,23.8 773.3,21.8 776.6,31" fill="none" stroke="#5b8fc6" stroke-width="4" stroke-linejoin="miter" stroke-linecap="round"/>
<circle cx="698.4" cy="62" r="4.7" fill="none" stroke="#c9e2fb" stroke-width="3.3"/>
<text x="706.3" y="57.4" font-family="Liberation Sans, sans-serif" font-weight="bold" font-size="30.6" fill="#ebebf7" stroke="#ebebf7" stroke-width="0.9" textLength="67.5" lengthAdjust="spacingAndGlyphs">EMR</text>
<text x="707" y="65" font-family="Liberation Sans, sans-serif" font-weight="bold" font-size="6.9" fill="#d5e3f3" stroke="#d5e3f3" stroke-width="0.15" textLength="67.5" lengthAdjust="spacingAndGlyphs">Leave it to the Experts!</text>
</svg>
<!--/LOGO-->
</body></html>
